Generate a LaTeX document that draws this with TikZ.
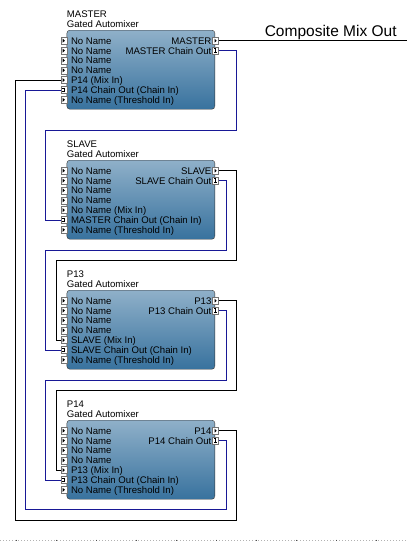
\documentclass[tikz,border=0pt]{standalone}
\usepackage{fontspec}
\setmainfont{Liberation Sans}
\usetikzlibrary{positioning,calc}
\definecolor{chainblue}{RGB}{24,24,150}
\definecolor{boxtop}{RGB}{143,176,201}
\definecolor{boxbot}{RGB}{56,114,158}
\tikzset{
    mixer/.style={draw=black!80,rounded corners=3pt,top color=boxtop,bottom color=boxbot,
        minimum width=148pt,minimum height=79pt,inner sep=0pt,anchor=north west},
    port/.style={draw=black!55,fill=white,minimum width=6pt,minimum height=7pt,inner sep=0pt},
    aport/.style={port,path picture={\fill[black] ([xshift=-1pt,yshift=2pt]path picture bounding box.center)
        -- ++(2.2pt,-2pt) -- ++(-2.2pt,-2pt) -- cycle;}},
    cport/.style={port,path picture={\draw[black,line width=0.6pt] ([xshift=-1.3pt,yshift=1.8pt]path picture bounding box.center)
        -- ++(1.5pt,0) -- ++(0,-3.6pt) ++(-1.6pt,0) -- ++(2.9pt,0);}},
    lbl/.style={inner sep=0pt,font=\fontsize{9.6}{10}\selectfont},
    audio/.style={black,line width=0.9pt},
    chain/.style={chainblue,line width=0.9pt}
}

\begin{document}
\begin{tikzpicture}[x=1pt,y=-1pt]
    \useasboundingbox (0,0) rectangle (407,541);
    % the four automixer blocks
    \foreach \blk/\ttl/\mix/\chn [count=\k from 0] in {
            m/MASTER/P14 (Mix In)/P14 Chain Out (Chain In),
            s/SLAVE/No Name (Mix In)/MASTER Chain Out (Chain In),
            p13/P13/SLAVE (Mix In)/SLAVE Chain Out (Chain In),
            p14/P14/P13 (Mix In)/P13 Chain Out (Chain In)}
    {
        \pgfmathsetmacro\ytop{30+130*\k}
        \node[mixer] (\blk) at (66.7,\ytop) {};
        \node[lbl,anchor=base west] (\blk-name) at ([yshift=12.7pt]\blk.north west) {\ttl};
        \node[lbl,anchor=base west] (\blk-type) at ([yshift=2.3pt]\blk.north west) {Gated Automixer};
        \foreach \i/\kind/\txt in {1/aport/No Name,2/aport/No Name,3/aport/No Name,4/aport/No Name,
                5/aport/\mix,6/cport/\chn,7/aport/No Name (Threshold In)}
        {
            \pgfmathsetmacro\yy{\ytop+10.7+9.85*(\i-1)}
            \node[\kind] (\blk-i\i) at (63.7,\yy) {};
            \node[lbl,anchor=base west] (\blk-t\i) at (70.8,\yy+3.5) {\txt};
        }
        \node[aport] (\blk-o1) at (215.5,\ytop+10.7) {};
        \node[lbl,anchor=base east] (\blk-ot1) at (211.6,\ytop+14.2) {\ttl};
        \node[cport] (\blk-o2) at (215.5,\ytop+20.55) {};
        \node[lbl,anchor=base east] (\blk-ot2) at (211.6,\ytop+24.05) {\ttl{} Chain Out};
    }

    % composite output
    \coordinate (mixout) at ([xshift=189pt]m-o1.east);
    \draw[audio] (m-o1.east) -- (mixout);
    \node[inner sep=0pt,anchor=base,font=\fontsize{15.5}{16}\selectfont] (mixlbl)
        at ([xshift=-77pt,yshift=4pt]mixout) {Composite Mix Out};

    % mix and chain links
    \draw[chain] (m-o2.east) -| (236,130) -| ([xshift=-15.5pt]s-i6.west) -- (s-i6.west);
    \draw[audio] (s-o1.east) -| (236.7,260) -| ([xshift=-4.5pt]p13-i5.west) -- (p13-i5.west);
    \draw[chain] (s-o2.east) -| (226.7,250) -| ([xshift=-15.5pt]p13-i6.west) -- (p13-i6.west);
    \draw[audio] (p13-o1.east) -| (236.7,390) -| ([xshift=-4.5pt]p14-i5.west) -- (p14-i5.west);
    \draw[chain] (p13-o2.east) -| (226.7,380) -| ([xshift=-15.5pt]p14-i6.west) -- (p14-i6.west);
    \draw[audio] (p14-o1.east) -| (236.7,520) -| ([xshift=-45.2pt]m-i5.west) -- (m-i5.west);
    \draw[chain] (p14-o2.east) -| (226.7,509) -| ([xshift=-35.2pt]m-i6.west) -- (m-i6.west);

    % page edge
    \draw[black!30,dash pattern=on 1pt off 2pt] (0,540.5) -- (407,540.5);
    \foreach \t in {16.7,56.7,...,400}
        \draw[black!70,line width=0.6pt] (\t,539.5) -- (\t,541);
\end{tikzpicture}
\end{document}
